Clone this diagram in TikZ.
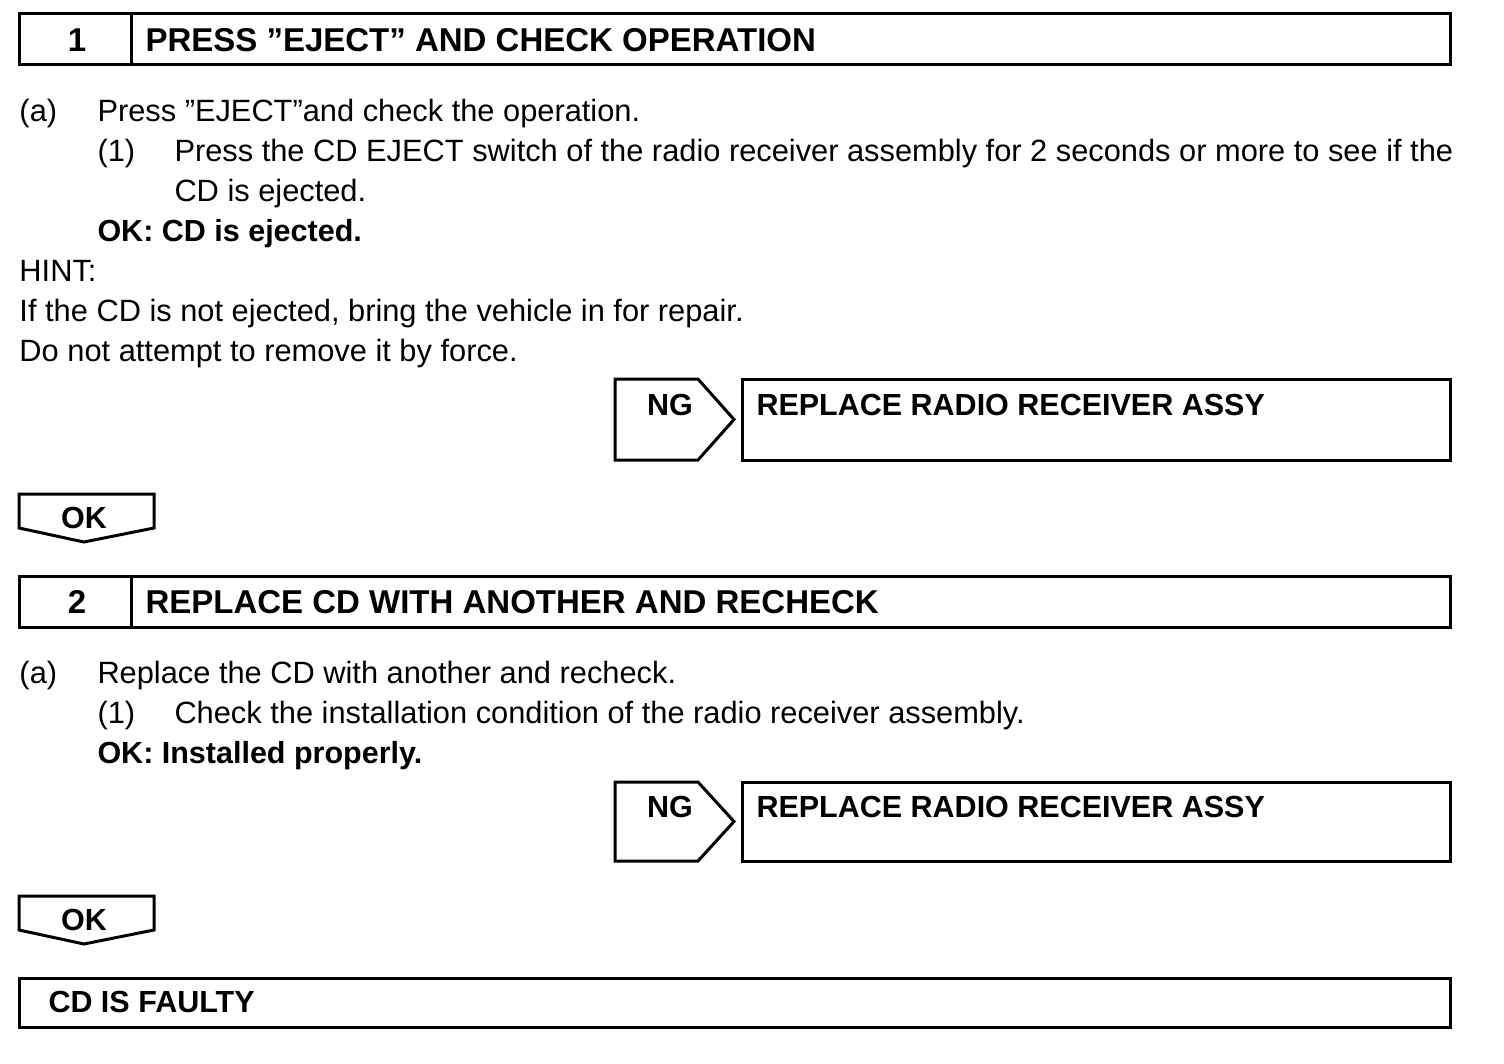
\documentclass[tikz,border=0pt]{standalone}
\usepackage{fontspec}
\setmainfont{Liberation Sans}
\begin{document}
\begin{tikzpicture}[x=1pt,y=-1pt,line width=3pt,line join=miter,
  body/.style={anchor=base west,inner sep=0pt,font=\fontsize{30.8}{36}\selectfont},
  bbody/.style={anchor=base west,inner sep=0pt,font=\fontsize{30.5}{36}\selectfont\bfseries},
  bctr/.style={anchor=base,inner sep=0pt,font=\fontsize{30.5}{36}\selectfont\bfseries},
  hdr/.style={anchor=base west,inner sep=0pt,font=\fontsize{33}{38}\selectfont\bfseries},
  hctr/.style={anchor=base,inner sep=0pt,font=\fontsize{33}{38}\selectfont\bfseries}]
\useasboundingbox (0,0) rectangle (1504,1064);
% ---- Step 1 header
\draw (19,14) rectangle (1450,65);
\draw (131,14) -- (131,65);
\node[hctr] (n1) at (77,52) {1};
\node[hdr] (h1) at (144,52) {PRESS ”EJECT” AND CHECK OPERATION};
% ---- Step 1 body
\node[body] (a1) at (18,122) {(a)};
\node[body] (a1t) at (96,122) {Press ”EJECT”and check the operation.};
\node[body] (b1) at (96,162) {(1)};
\node[body] (b1t) at (173,162) {Press the CD EJECT switch of the radio receiver assembly for 2 seconds or more to see if the};
\node[body] (b1u) at (173,202) {CD is ejected.};
\node[bbody] (ok1t) at (96,242) {OK: CD is ejected.};
\node[body] (hint) at (18,282) {HINT:};
\node[body] (hint1) at (18,322) {If the CD is not ejected, bring the vehicle in for repair.};
\node[body] (hint2) at (18,362) {Do not attempt to remove it by force.};
% ---- NG 1
\draw (615,379) -- (698,379) -- (734,419.5) -- (698,460) -- (615,460) -- cycle;
\node[bctr] (ng1) at (670,415) {NG};
\draw (742,379) rectangle (1450,460);
\node[bbody] (r1) at (755,415) {REPLACE RADIO RECEIVER ASSY};
% ---- OK 1
\draw (19,494) -- (154,494) -- (154,528) -- (84,542) -- (19,528) -- cycle;
\node[bctr] (ok1) at (84,528) {OK};
% ---- Step 2 header
\draw (19,576) rectangle (1450,627);
\draw (131,576) -- (131,627);
\node[hctr] (n2) at (77,613) {2};
\node[hdr] (h2) at (144,613) {REPLACE CD WITH ANOTHER AND RECHECK};
% ---- Step 2 body
\node[body] (a2) at (18,683) {(a)};
\node[body] (a2t) at (96,683) {Replace the CD with another and recheck.};
\node[body] (b2) at (96,723) {(1)};
\node[body] (b2t) at (173,723) {Check the installation condition of the radio receiver assembly.};
\node[bbody] (ok2t) at (96,763) {OK: Installed properly.};
% ---- NG 2
\draw (615,782) -- (698,782) -- (734,821.5) -- (698,861) -- (615,861) -- cycle;
\node[bctr] (ng2) at (670,817) {NG};
\draw (742,782) rectangle (1450,861);
\node[bbody] (r2) at (755,817) {REPLACE RADIO RECEIVER ASSY};
% ---- OK 2
\draw (19,896) -- (154,896) -- (154,930) -- (84,944) -- (19,930) -- cycle;
\node[bctr] (ok2) at (84,930) {OK};
% ---- Final
\draw (19,978) rectangle (1450,1027);
\node[bbody] (fin) at (47,1012) {CD IS FAULTY};
\end{tikzpicture}
\end{document}
